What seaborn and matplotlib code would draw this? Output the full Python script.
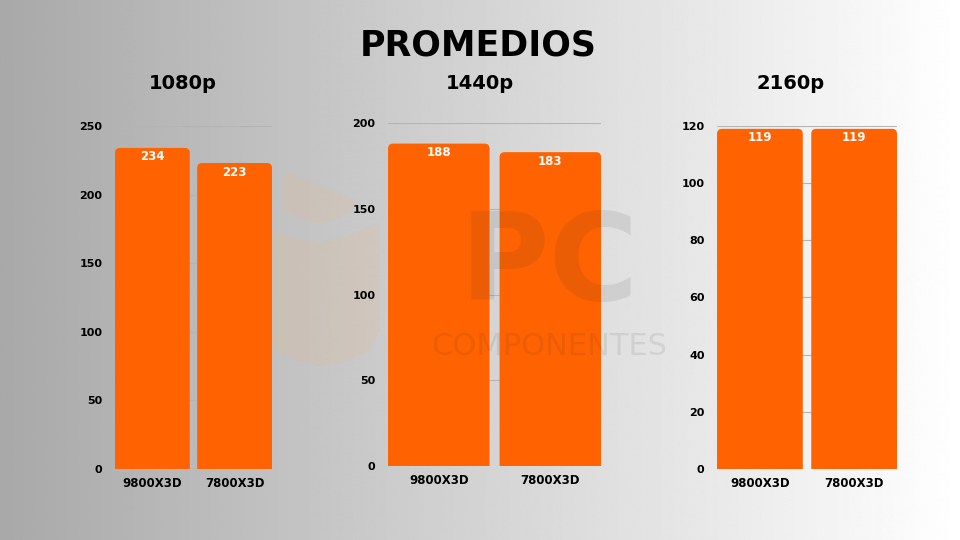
import numpy as np
import pandas as pd
import seaborn as sns
import matplotlib.pyplot as plt
from matplotlib.patches import FancyBboxPatch, Polygon


# ------------------------ DATOS ------------------------

cpus = ["9800X3D", "7800X3D"]
resoluciones = ["1080p", "1440p", "2160p"]
fps_1080 = [234, 223]
fps_1440 = [188, 183]
fps_2160 = [119, 119]
ticks_1080 = [0, 50, 100, 150, 200, 250]
ticks_1440 = [0, 50, 100, 150, 200]
ticks_2160 = [0, 20, 40, 60, 80, 100, 120]

NARANJA = "#ff6200"

sns.set_theme(style="white")
plt.rcParams["font.family"] = ["DejaVu Sans"]

fig = plt.figure(figsize=(9.6, 5.4), dpi=100)

# fondo degradado gris -> blanco
bg = fig.add_axes([0, 0, 1, 1], zorder=-10)
grad = np.linspace(0.66, 1.0, 1024).reshape(1, -1)
bg.imshow(grad, cmap="gray", vmin=0, vmax=1, aspect="auto",
          extent=[0, 960, 540, 0], interpolation="bilinear")
bg.set_xlim(0, 960)
bg.set_ylim(540, 0)
bg.set_axis_off()

# escudo del logo (marca de agua, en pixeles)
escudo_sup = [(283, 176), (290, 173), (350, 198), (356, 205), (350, 212),
              (330, 222), (315, 223), (290, 213), (283, 209)]
escudo_inf = [(265, 228), (300, 240), (320, 242), (345, 237), (380, 222),
              (380, 330), (370, 350), (345, 362), (320, 366), (295, 360),
              (265, 345)]
for pts in (escudo_sup, escudo_inf):
    bg.add_patch(Polygon(pts, closed=True, facecolor="#e8b88a",
                         edgecolor="none", alpha=0.2))

fig.text(0.498, 0.915, "PROMEDIOS", ha="center", va="center",
         fontsize=25, fontweight="heavy", color="black")

# posiciones de cada panel (en fraccion de figura)
paneles = [
    (fps_1080, ticks_1080, [0.1198, 0.1315, 0.1635, 0.6352], 0.190),
    (fps_1440, ticks_1440, [0.4042, 0.1370, 0.2219, 0.6352], 0.500),
    (fps_2160, ticks_2160, [0.7469, 0.1315, 0.1875, 0.6352], 0.823),
]

ancho = 0.91

for res, (valores, ticks, pos, xt) in zip(resoluciones, paneles):
    ax = fig.add_axes(pos)
    ax.patch.set_alpha(0)
    df = pd.DataFrame({"CPU": cpus, "FPS": valores})
    sns.barplot(data=df, x="CPU", y="FPS", color=NARANJA, width=ancho,
                saturation=1, ax=ax, zorder=2)
    ax.set_ylim(0, ticks[-1])
    ax.set_xlim(-ancho / 2, 1 + ancho / 2)
    ax.set_yticks(ticks)
    ax.yaxis.grid(True, color="#b4b4b4", linewidth=0.8, zorder=0)
    ax.set_axisbelow(True)
    sns.despine(ax=ax, left=True, bottom=True)
    ax.tick_params(length=0, pad=9, labelsize=8)
    ax.tick_params(axis="x", pad=6, labelsize=8.5)
    for lbl in ax.get_xticklabels() + ax.get_yticklabels():
        lbl.set_fontweight("bold")
        lbl.set_color("black")
    ax.set_xlabel("")
    ax.set_ylabel("")

    # esquinas redondeadas
    fig.canvas.draw()
    inv = ax.transData.inverted()
    p0 = inv.transform((0, 0))
    p1 = inv.transform((1, 1))
    dx, dy = p1[0] - p0[0], p1[1] - p0[1]
    r = 5 * dx
    for bar in list(ax.patches):
        x, w, h = bar.get_x(), bar.get_width(), bar.get_height()
        bar.set_visible(False)
        fb = FancyBboxPatch((x, -10 * dy), w, h + 10 * dy,
                            boxstyle=f"round,pad=0,rounding_size={r}",
                            mutation_aspect=dy / dx, facecolor=NARANJA,
                            edgecolor="none", zorder=2)
        ax.add_patch(fb)

    for i, v in enumerate(valores):
        ax.text(i, v - 9 * dy, str(v), ha="center", va="center", color="white",
                fontsize=8.5, fontweight="bold", zorder=3)

    fig.text(xt, 0.845, res, ha="center", va="center", fontsize=14,
             fontweight="heavy", color="black")

# marca de agua
fig.text(0.572, 0.4444, "PC", ha="center", va="baseline", fontsize=88,
         fontweight="heavy", color="#3a3a3a", alpha=0.1, zorder=20)
fig.text(0.572, 0.3852, "COMPONENTES", ha="center", va="top", fontsize=22,
         color="#3a3a3a", alpha=0.1, zorder=20)

fig.savefig("out.png", dpi=100)
